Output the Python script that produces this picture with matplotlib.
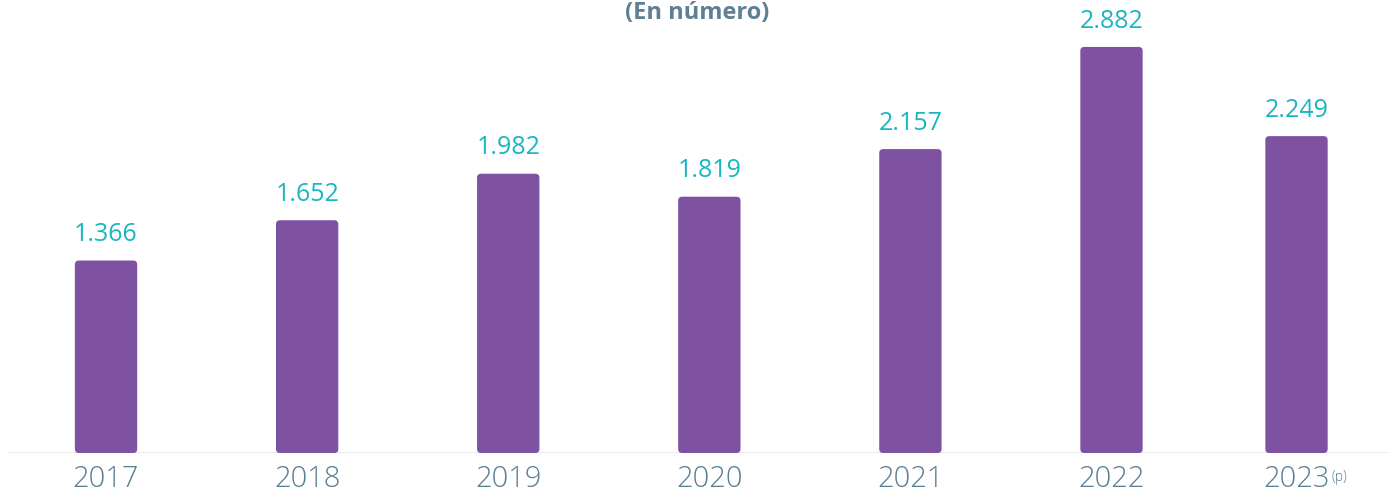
import matplotlib
matplotlib.use("Agg")
import matplotlib.pyplot as plt
from matplotlib.patches import FancyBboxPatch

years = ["2017", "2018", "2019", "2020", "2021", "2022", "2023"]
values = [1366, 1652, 1982, 1819, 2157, 2882, 2249]
value_labels = ["1.366", "1.652", "1.982", "1.819", "2.157", "2.882", "2.249"]
superscripts = ["", "", "", "", "", "", "(p)"]
title = "(En número)"

positions = [0, 1, 2, 3, 4, 5, 5.92]

fig = plt.figure(figsize=(13.89, 4.94), dpi=100)
ax = fig.add_axes([8/1389, 41/494, 1 - 8/1389, 1 - 41/494])
ax.set_xlim(-0.4876, 6.38)
ax.set_ylim(0, 3215)

bar_color = "#7e52a0"
width = 0.31
bars = ax.bar(positions, values, width=width, color=bar_color, zorder=2)
for b in bars:
    b.set_visible(False)
    x0, w, h = b.get_x(), b.get_width(), b.get_height()
    p = FancyBboxPatch((x0, 0), w, h,
                       boxstyle="round,pad=0,rounding_size=0.02",
                       mutation_aspect=1427,
                       fc=bar_color, ec="none", zorder=2)
    ax.add_patch(p)

for xp, v, lab in zip(positions, values, value_labels):
    ax.text(xp, v + 95, lab, ha="center", va="bottom", color="#19b6c1",
            fontsize=18, family="Open Sans")

ax.axhline(0, color="#e6e6e6", lw=1.2, zorder=1)
for s in ax.spines.values():
    s.set_visible(False)
ax.set_xticks([])
ax.set_yticks([])

xt = ax.get_xaxis_transform()
for xp, y, sup in zip(positions, years, superscripts):
    t = ax.text(xp, -0.026, y, transform=xt, ha="center", va="top",
                color="#5b7f93", fontsize=21, family="Open Sans", fontweight="light")
    if sup:
        ax.annotate(sup, xy=(1.0, 1.0), xycoords=t, xytext=(1, -4),
                    textcoords="offset points", ha="left", va="top",
                    color="#5b7f93", fontsize=10, family="Open Sans", fontweight="light")

fig.text(697/1389, 1 - 1/494, title, ha="center", va="top", color="#5f7f93",
         fontsize=17, fontweight="bold", family="Open Sans")

fig.savefig("out.png", dpi=100)
